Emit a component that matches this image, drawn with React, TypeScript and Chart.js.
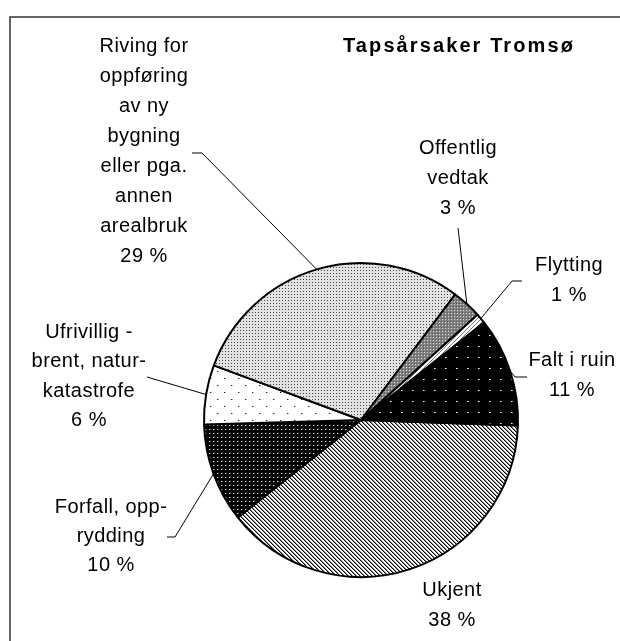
import React, { useEffect, useRef } from "react";
import { Chart, registerables } from "chart.js";

Chart.register(...registerables);

// ---- data ----
const title = "Tapsårsaker Tromsø";
const categories = [
  "Ukjent",
  "Forfall, opprydding",
  "Ufrivillig - brent, naturkatastrofe",
  "Riving for oppføring av ny bygning eller pga. annen arealbruk",
  "Offentlig vedtak",
  "Flytting",
  "Falt i ruin",
];
const labelLines = [
  ["Ukjent"],
  ["Forfall, opp-", "rydding"],
  ["Ufrivillig -", "brent, natur-", "katastrofe"],
  ["Riving for", "oppføring", "av ny", "bygning", "eller pga.", "annen", "arealbruk"],
  ["Offentlig", "vedtak"],
  ["Flytting"],
  ["Falt i ruin"],
];
const percents = [38, 10, 6, 29, 3, 1, 11];

// ---- layout (label placement, not data) ----
const labelLayout = [
  { x: 452, y: 590, lh: 30, leader: null as null | number[][] },
  { x: 111, y: 507, lh: 29, leader: [[175, 537], [167, 537]] },
  { x: 89, y: 332, lh: 29.5, leader: [[147, 377]] },
  { x: 144, y: 46, lh: 30, leader: [[202, 153], [192, 153]] },
  { x: 458, y: 148, lh: 30, leader: [[458, 228]] },
  { x: 569, y: 265, lh: 30, leader: [[512, 281], [522, 281]] },
  { x: 572, y: 360, lh: 30, leader: [[515, 377], [527, 377]] },
];

function makePattern(
  w: number,
  h: number,
  bg: string,
  px: [number, number, string][]
): CanvasPattern {
  const c = document.createElement("canvas");
  c.width = w;
  c.height = h;
  const g = c.getContext("2d")!;
  g.fillStyle = bg;
  g.fillRect(0, 0, w, h);
  for (const [x, y, col] of px) {
    g.fillStyle = col;
    g.fillRect(x, y, 1, 1);
  }
  const p = g.createPattern(c, "repeat");
  return p!;
}

function buildPatterns(): CanvasPattern[] {
  // Ukjent: "\" diagonal stripes
  const stripes: [number, number, string][] = [];
  for (let y = 0; y < 4; y++) {
    stripes.push([y % 4, y, "#000"]);
    stripes.push([(y + 1) % 4, y, "#8a8a8a"]);
  }
  // Flytting: "/" light stripes
  const fstripes: [number, number, string][] = [];
  for (let y = 0; y < 4; y++) fstripes.push([(3 - y + 4) % 4, y, "#777"]);
  return [
    makePattern(4, 4, "#fff", stripes),
    makePattern(4, 4, "#000", [[1, 1, "#e0e0e0"], [2, 1, "#555"]]),
    makePattern(14, 14, "#fff", [[0, 0, "#222"], [1, 0, "#aaa"], [7, 7, "#222"], [8, 7, "#aaa"]]),
    makePattern(3, 3, "#e2e2e2", [[0, 0, "#444"]]),
    makePattern(3, 3, "#808080", [[1, 1, "#d8d8d8"], [0, 0, "#555"]]),
    makePattern(4, 4, "#fff", fstripes),
    makePattern(11, 11, "#000", [[5, 5, "#fff"], [6, 5, "#999"]]),
  ];
}

const FONT = '"Liberation Sans", Arial, Helvetica, sans-serif';

const overlayPlugin = {
  id: "overlay",
  afterDraw(chart: any) {
    const ctx: CanvasRenderingContext2D = chart.ctx;
    ctx.save();
    // frame
    ctx.strokeStyle = "#333";
    ctx.lineWidth = 1.5;
    ctx.beginPath();
    ctx.moveTo(10, 700);
    ctx.lineTo(10, 17);
    ctx.lineTo(700, 17);
    ctx.stroke();

    // title
    ctx.fillStyle = "#000";
    ctx.textAlign = "center";
    ctx.textBaseline = "middle";
    (ctx as any).letterSpacing = "2.1px";
    ctx.font = `bold 20px ${FONT}`;
    ctx.fillText(title, 459, 46);

    // leaders
    const meta = chart.getDatasetMeta(0);
    ctx.lineWidth = 1;
    ctx.strokeStyle = "#000";
    meta.data.forEach((arc: any, i: number) => {
      const L = labelLayout[i];
      if (!L.leader) return;
      const p = arc.getProps(["x", "y", "startAngle", "endAngle", "outerRadius"], true);
      const mid = (p.startAngle + p.endAngle) / 2;
      const rx = p.x + Math.cos(mid) * p.outerRadius;
      const ry = p.y + Math.sin(mid) * p.outerRadius;
      ctx.beginPath();
      ctx.moveTo(rx, ry);
      for (const [lx, ly] of L.leader) ctx.lineTo(lx, ly);
      ctx.stroke();
    });

    // labels
    (ctx as any).letterSpacing = "0.45px";
    ctx.font = `20px ${FONT}`;
    ctx.fillStyle = "#000";
    labelLines.forEach((lines, i) => {
      const L = labelLayout[i];
      const all = [...lines, `${percents[i]} %`];
      all.forEach((t, k) => {
        ctx.fillText(t, L.x, L.y + k * L.lh);
      });
    });
    ctx.restore();
  },
};

export default function App() {
  const ref = useRef<HTMLCanvasElement>(null);
  useEffect(() => {
    if (!ref.current) return;
    const patterns = buildPatterns();
    const chart = new Chart(ref.current, {
      type: "pie",
      data: {
        labels: categories,
        datasets: [
          {
            data: percents,
            backgroundColor: patterns as any,
            borderColor: "#000",
            borderWidth: 2,
          },
        ],
      },
      options: {
        responsive: false,
        animation: false,
        devicePixelRatio: 1,
        rotation: 92,
        layout: { padding: { left: 203, right: 101, top: 262, bottom: 63 } },
        plugins: {
          legend: { display: false },
          tooltip: { enabled: false },
          title: { display: false },
        },
      },
      plugins: [overlayPlugin],
    });
    return () => chart.destroy();
  }, []);
  return (
    <div style={{ position: "absolute", left: 0, top: 0, width: 620, height: 641, background: "#fff" }}>
      <canvas ref={ref} width={620} height={641} style={{ display: "block" }} />
    </div>
  );
}
